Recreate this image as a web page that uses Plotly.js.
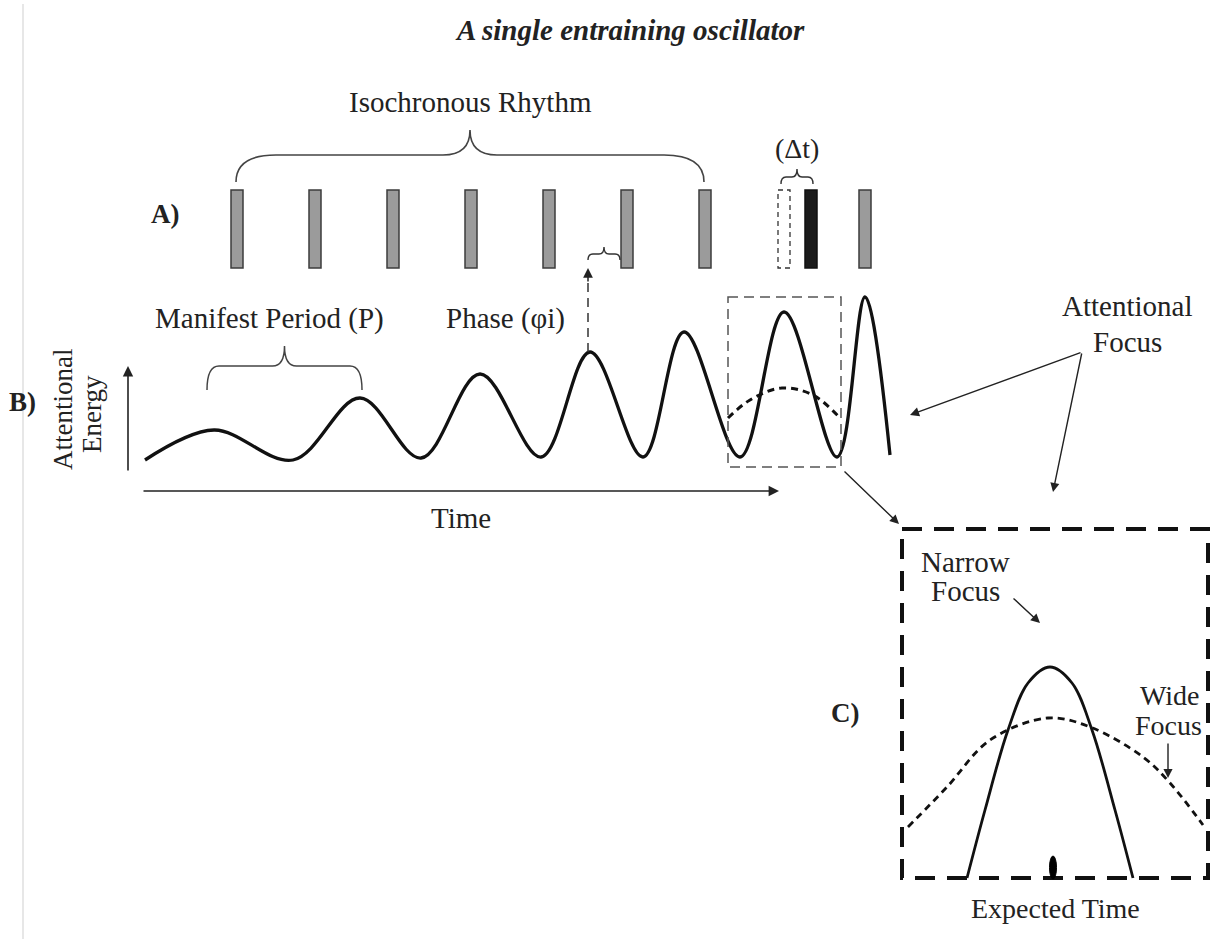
<!DOCTYPE html>
<html>
<head>
<meta charset="utf-8">
<script src="https://cdn.plot.ly/plotly-3.0.1.min.js"></script>
<style>
  html, body { margin: 0; padding: 0; background: #fff; }
  #chart { width: 1213px; height: 939px; }
</style>
</head>
<body>
<div id="chart"></div>
<script>
// ---------------- DATA ----------------
// A) isochronous rhythm: tone onset times
const rhythmOnsets = [237, 315, 393, 471, 549, 627, 705, 865];
const expectedOnset = [784];      // expected tone (dashed outline)
const shiftedOnset = [811];       // actual, shifted tone (black)
const toneStart = 190;            // tone level (top)
const toneLength = 78;            // tone bar extent

// B) entraining oscillator: successive troughs / peaks of attentional energy
const waveTime   = [145, 214, 293, 360, 421, 480, 541, 590, 643, 684, 740, 784, 837, 865, 890];
const waveEnergy = [460, 430, 460, 398, 458, 374, 457, 352, 457, 332, 457, 312, 457, 297, 455];
// wide-focus (dashed) pulse inside the highlighted window
const wideTime   = [728, 750, 782, 813, 840];
const wideEnergy = [418, 400, 388, 395, 418];
// highlighted window
const windowTime = [728, 841];
const windowEnergy = [297, 467];
// manifest period brace span
const periodSpan = [207, 362];

// C) zoomed view: narrow vs wide focus around expected time
const narrowTime   = [967, 985, 1008, 1028, 1050, 1072, 1092, 1115, 1133];
const narrowEnergy = [878, 810, 730, 683, 667, 683, 730, 810, 878];
const wideTimeC    = [908, 947, 990, 1048, 1090, 1143, 1170, 1203];
const wideEnergyC  = [827, 787, 740, 718, 727, 757, 783, 825];
const expectedTimeC = 1053;

// ---------------- helpers ----------------
const FONT = "'Liberation Serif', 'Times New Roman', serif";
const INK = '#222';

function bracePath(x0, x1, yBar, yEnd, yTip, rEnd, rMid) {
  const xm = (x0 + x1) / 2;
  return `M ${x0},${yEnd} Q ${x0},${yBar} ${x0 + rEnd},${yBar} L ${xm - rMid},${yBar} ` +
         `Q ${xm},${yBar} ${xm},${yTip} Q ${xm},${yBar} ${xm + rMid},${yBar} ` +
         `L ${x1 - rEnd},${yBar} Q ${x1},${yBar} ${x1},${yEnd}`;
}
function arrow(x, y, ax, ay, w) {
  return {x: x, y: y, ax: ax, ay: ay, xref: 'x', yref: 'y', axref: 'x', ayref: 'y',
          text: '', showarrow: true, arrowhead: 2, arrowsize: 1.3, arrowwidth: w || 1.5,
          arrowcolor: INK, standoff: 0, startstandoff: 0};
}
function label(text, x, y, size, opts) {
  return Object.assign({x: x, y: y, xref: 'x', yref: 'y', text: text, showarrow: false,
          font: {family: FONT, size: size, color: INK}, xanchor: 'center', yanchor: 'middle'}, opts || {});
}

// ---------------- traces ----------------
const traces = [];
// gray tones
traces.push({type: 'bar', x: rhythmOnsets, y: rhythmOnsets.map(() => toneLength),
  base: toneStart, width: 12, marker: {color: '#9b9b9b', line: {color: '#3c3c3c', width: 1.5}},
  hoverinfo: 'skip', showlegend: false});
// shifted tone (black)
traces.push({type: 'bar', x: shiftedOnset, y: [toneLength], base: toneStart, width: 12,
  marker: {color: '#1b1b1b', line: {color: '#111', width: 1.5}}, hoverinfo: 'skip', showlegend: false});
// expected tone (dashed outline)
const e0 = expectedOnset[0] - 6, e1 = expectedOnset[0] + 6;
traces.push({type: 'scatter', mode: 'lines',
  x: [e0, e1, e1, e0, e0], y: [toneStart, toneStart, toneStart + toneLength, toneStart + toneLength, toneStart],
  line: {color: '#333', width: 1.3, dash: '5px,4px'}, hoverinfo: 'skip', showlegend: false});
// oscillator wave
traces.push({type: 'scatter', mode: 'lines', x: waveTime, y: waveEnergy,
  line: {color: '#111', width: 3.3, shape: 'spline', smoothing: 1.0}, hoverinfo: 'skip', showlegend: false});
// wide focus dashed pulse (B)
traces.push({type: 'scatter', mode: 'lines', x: wideTime, y: wideEnergy,
  line: {color: '#111', width: 3, shape: 'spline', dash: '7px,5px'}, hoverinfo: 'skip', showlegend: false});
// C narrow focus
traces.push({type: 'scatter', mode: 'lines', x: narrowTime, y: narrowEnergy,
  line: {color: '#111', width: 2.8, shape: 'spline', smoothing: 1.0}, hoverinfo: 'skip', showlegend: false});
// C wide focus
traces.push({type: 'scatter', mode: 'lines', x: wideTimeC, y: wideEnergyC,
  line: {color: '#111', width: 2.8, shape: 'spline', dash: '7px,5px'}, hoverinfo: 'skip', showlegend: false});

// ---------------- shapes ----------------
const shapes = [
  // faint page rule on the left
  {type: 'line', xref: 'x', yref: 'y', x0: 23, x1: 23, y0: 4, y1: 939, line: {color: '#cfcfcf', width: 1}},
  // big brace over the isochronous rhythm
  {type: 'path', xref: 'x', yref: 'y', path: bracePath(rhythmOnsets[0] - 1, rhythmOnsets[6] - 1, 155, 182, 130, 40, 27),
   line: {color: '#444', width: 1.6}},
  // delta t brace
  {type: 'path', xref: 'x', yref: 'y', path: bracePath(expectedOnset[0] - 3, shiftedOnset[0] + 2, 177, 184, 169, 5, 5),
   line: {color: '#333', width: 1.4}},
  // manifest period brace
  {type: 'path', xref: 'x', yref: 'y', path: bracePath(periodSpan[0], periodSpan[1], 366, 390, 346, 12, 12),
   line: {color: '#444', width: 1.5}},
  // phase brace
  {type: 'path', xref: 'x', yref: 'y', path: bracePath(waveTime[7] - 2, rhythmOnsets[5] - 7, 254, 260, 247, 5, 5),
   line: {color: '#333', width: 1.4}},
  // phase dashed line from peak up to the tone
  {type: 'line', xref: 'x', yref: 'y', x0: waveTime[7] - 2, x1: waveTime[7] - 2, y0: waveEnergy[7], y1: 282,
   line: {color: '#333', width: 1.5, dash: '9px,6px'}},
  // highlighted window (B)
  {type: 'rect', xref: 'x', yref: 'y', x0: windowTime[0], x1: windowTime[1], y0: windowEnergy[0], y1: windowEnergy[1],
   line: {color: '#555', width: 1.5, dash: '10px,6px'}},
  // zoom box (C)
  {type: 'rect', xref: 'x', yref: 'y', x0: 902, x1: 1208, y0: 529, y1: 878,
   line: {color: '#111', width: 4, dash: '20px,12px'}},
  // expected time marker
  {type: 'circle', xref: 'x', yref: 'y', x0: expectedTimeC - 3.5, x1: expectedTimeC + 3.5, y0: 856, y1: 879,
   fillcolor: '#000', line: {color: '#000', width: 1}}
];

// ---------------- annotations ----------------
const annotations = [
  label('<b><i>A single entraining oscillator</i></b>', 630, 30, 29),
  label('Isochronous Rhythm', 470, 102, 29),
  label('(Δt)', 797, 148, 28),
  label('<b>A)</b>', 165, 214, 27),
  label('Manifest Period (P)', 269, 318, 29),
  label('Phase (φi)', 505, 318, 29),
  label('Attentional', 1127, 306, 29),
  label('Focus', 1127, 342, 29),
  label('<b>B)</b>', 22, 402, 27),
  label('Attentional', 63, 410, 27, {textangle: -90}),
  label('Energy', 92, 414, 27, {textangle: -90}),
  label('Time', 461, 518, 29),
  label('Narrow', 965, 562, 29),
  label('Focus', 965, 591, 29),
  label('Wide', 1170, 695, 28),
  label('Focus', 1168, 725, 28),
  label('<b>C)</b>', 845, 713, 27),
  label('Expected Time', 1055, 908, 28),
  // axes arrows
  arrow(128, 366, 128, 472, 1.6),
  arrow(779, 491, 142, 491, 1.6),
  // phase arrow head
  arrow(waveTime[7] - 2, 268, waveTime[7] - 2, 283, 1.5),
  // attentional focus arrows
  arrow(910, 415, 1082, 352, 1.4),
  arrow(1053, 492, 1082, 352, 1.4),
  // window -> zoom box
  arrow(899, 524, 843, 470, 1.4),
  // narrow / wide focus pointers
  arrow(1040, 623, 1012, 597, 1.4),
  arrow(1168, 778, 1168, 742, 1.4)
];

const layout = {
  width: 1213, height: 939,
  margin: {l: 0, r: 0, t: 0, b: 0},
  paper_bgcolor: '#fff', plot_bgcolor: '#fff',
  showlegend: false,
  barmode: 'overlay',
  xaxis: {range: [0, 1213], visible: false, fixedrange: true},
  yaxis: {range: [939, 0], visible: false, fixedrange: true},
  shapes: shapes,
  annotations: annotations
};

Plotly.newPlot('chart', traces, layout, {staticPlot: true, displayModeBar: false});
</script>
</body>
</html>
